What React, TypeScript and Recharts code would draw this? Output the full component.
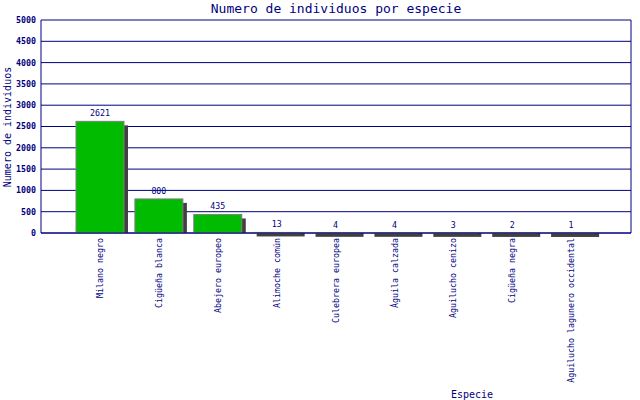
import React from "react";
import { BarChart, Bar, XAxis, YAxis, CartesianGrid, LabelList } from "recharts";

const categories = [
  "Milano negro",
  "Cigüeña blanca",
  "Abejero europeo",
  "Alimoche común",
  "Culebrera europea",
  "Águila calzada",
  "Aguilucho cenizo",
  "Cigüeña negra",
  "Aguilucho lagunero occidental",
];
const counts = [2621, 800, 435, 13, 4, 4, 3, 2, 1];
const yTicks = [0, 500, 1000, 1500, 2000, 2500, 3000, 3500, 4000, 4500, 5000];

const title = "Numero de individuos por especie";
const xTitle = "Especie";
const yTitle = "Numero de individuos";

const data = categories.map((name, i) => ({ name, value: counts[i] }));

const NAVY = "#000080";
const FONT = "'DejaVu Sans Mono', monospace";

function ShadowBar(props: any) {
  const { x, y, width, height } = props;
  const bottom = y + height;
  const sTop = Math.min(y + 4, bottom);
  const sBot = Math.max(y + 4, bottom);
  return (
    <g>
      <rect x={x + 4} y={sTop} width={width} height={sBot - sTop} fill="#404040" />
      <rect x={x} y={y} width={width} height={height} fill="#00bb00" stroke="#808080" strokeWidth={1} />
    </g>
  );
}

function XTick(props: any) {
  const { x, y, payload } = props;
  return (
    <g transform={`translate(${x},${y})`}>
      <text transform="rotate(-90)" textAnchor="end" dy="0.32em" fill={NAVY} fontSize={8.3} fontFamily={FONT}>
        {payload.value}
      </text>
    </g>
  );
}

function XTitle() {
  return (
    <text x={472} y={398} textAnchor="middle" fill={NAVY} fontSize={10} fontFamily={FONT}>
      {xTitle}
    </text>
  );
}

function YTitle() {
  return (
    <text
      x={0}
      y={0}
      transform="translate(11,127) rotate(-90)"
      textAnchor="middle"
      fill={NAVY}
      fontSize={10}
      fontFamily={FONT}
    >
      {yTitle}
    </text>
  );
}

export default function App() {
  return (
    <div style={{ position: "absolute", left: 0, top: 0, width: 640, height: 400, background: "#fff" }}>
      <div
        style={{
          position: "absolute",
          left: 41,
          width: 590,
          top: 0,
          textAlign: "center",
          color: NAVY,
          fontFamily: FONT,
          fontSize: 13,
          lineHeight: "17px",
        }}
      >
        {title}
      </div>
      <BarChart width={640} height={400} data={data} margin={{ top: 20, right: 9, bottom: 0, left: 0 }} barCategoryGap={0}>
        <CartesianGrid stroke={NAVY} vertical={true} verticalPoints={[631]} horizontal={true} />
        <XAxis
          dataKey="name"
          height={167}
          interval={0}
          padding={{ left: 30, right: 30 }}
          axisLine={{ stroke: NAVY }}
          tickLine={false}
          tickSize={0}
          tickMargin={5}
          tick={<XTick />}
          label={<XTitle />}
        />
        <YAxis
          width={41}
          domain={[0, 5000]}
          ticks={yTicks}
          interval={0}
          axisLine={{ stroke: NAVY }}
          tickLine={false}
          tickSize={0}
          tickMargin={5}
          tick={{ fill: NAVY, fontSize: 8.3, fontFamily: FONT, fontWeight: "bold" }}
          label={<YTitle />}
        />
        <Bar dataKey="value" barSize={48} shape={<ShadowBar />} isAnimationActive={false}>
          <LabelList dataKey="value" position="top" offset={5} fill={NAVY} fontSize={8.3} fontFamily={FONT} />
        </Bar>
      </BarChart>
    </div>
  );
}
